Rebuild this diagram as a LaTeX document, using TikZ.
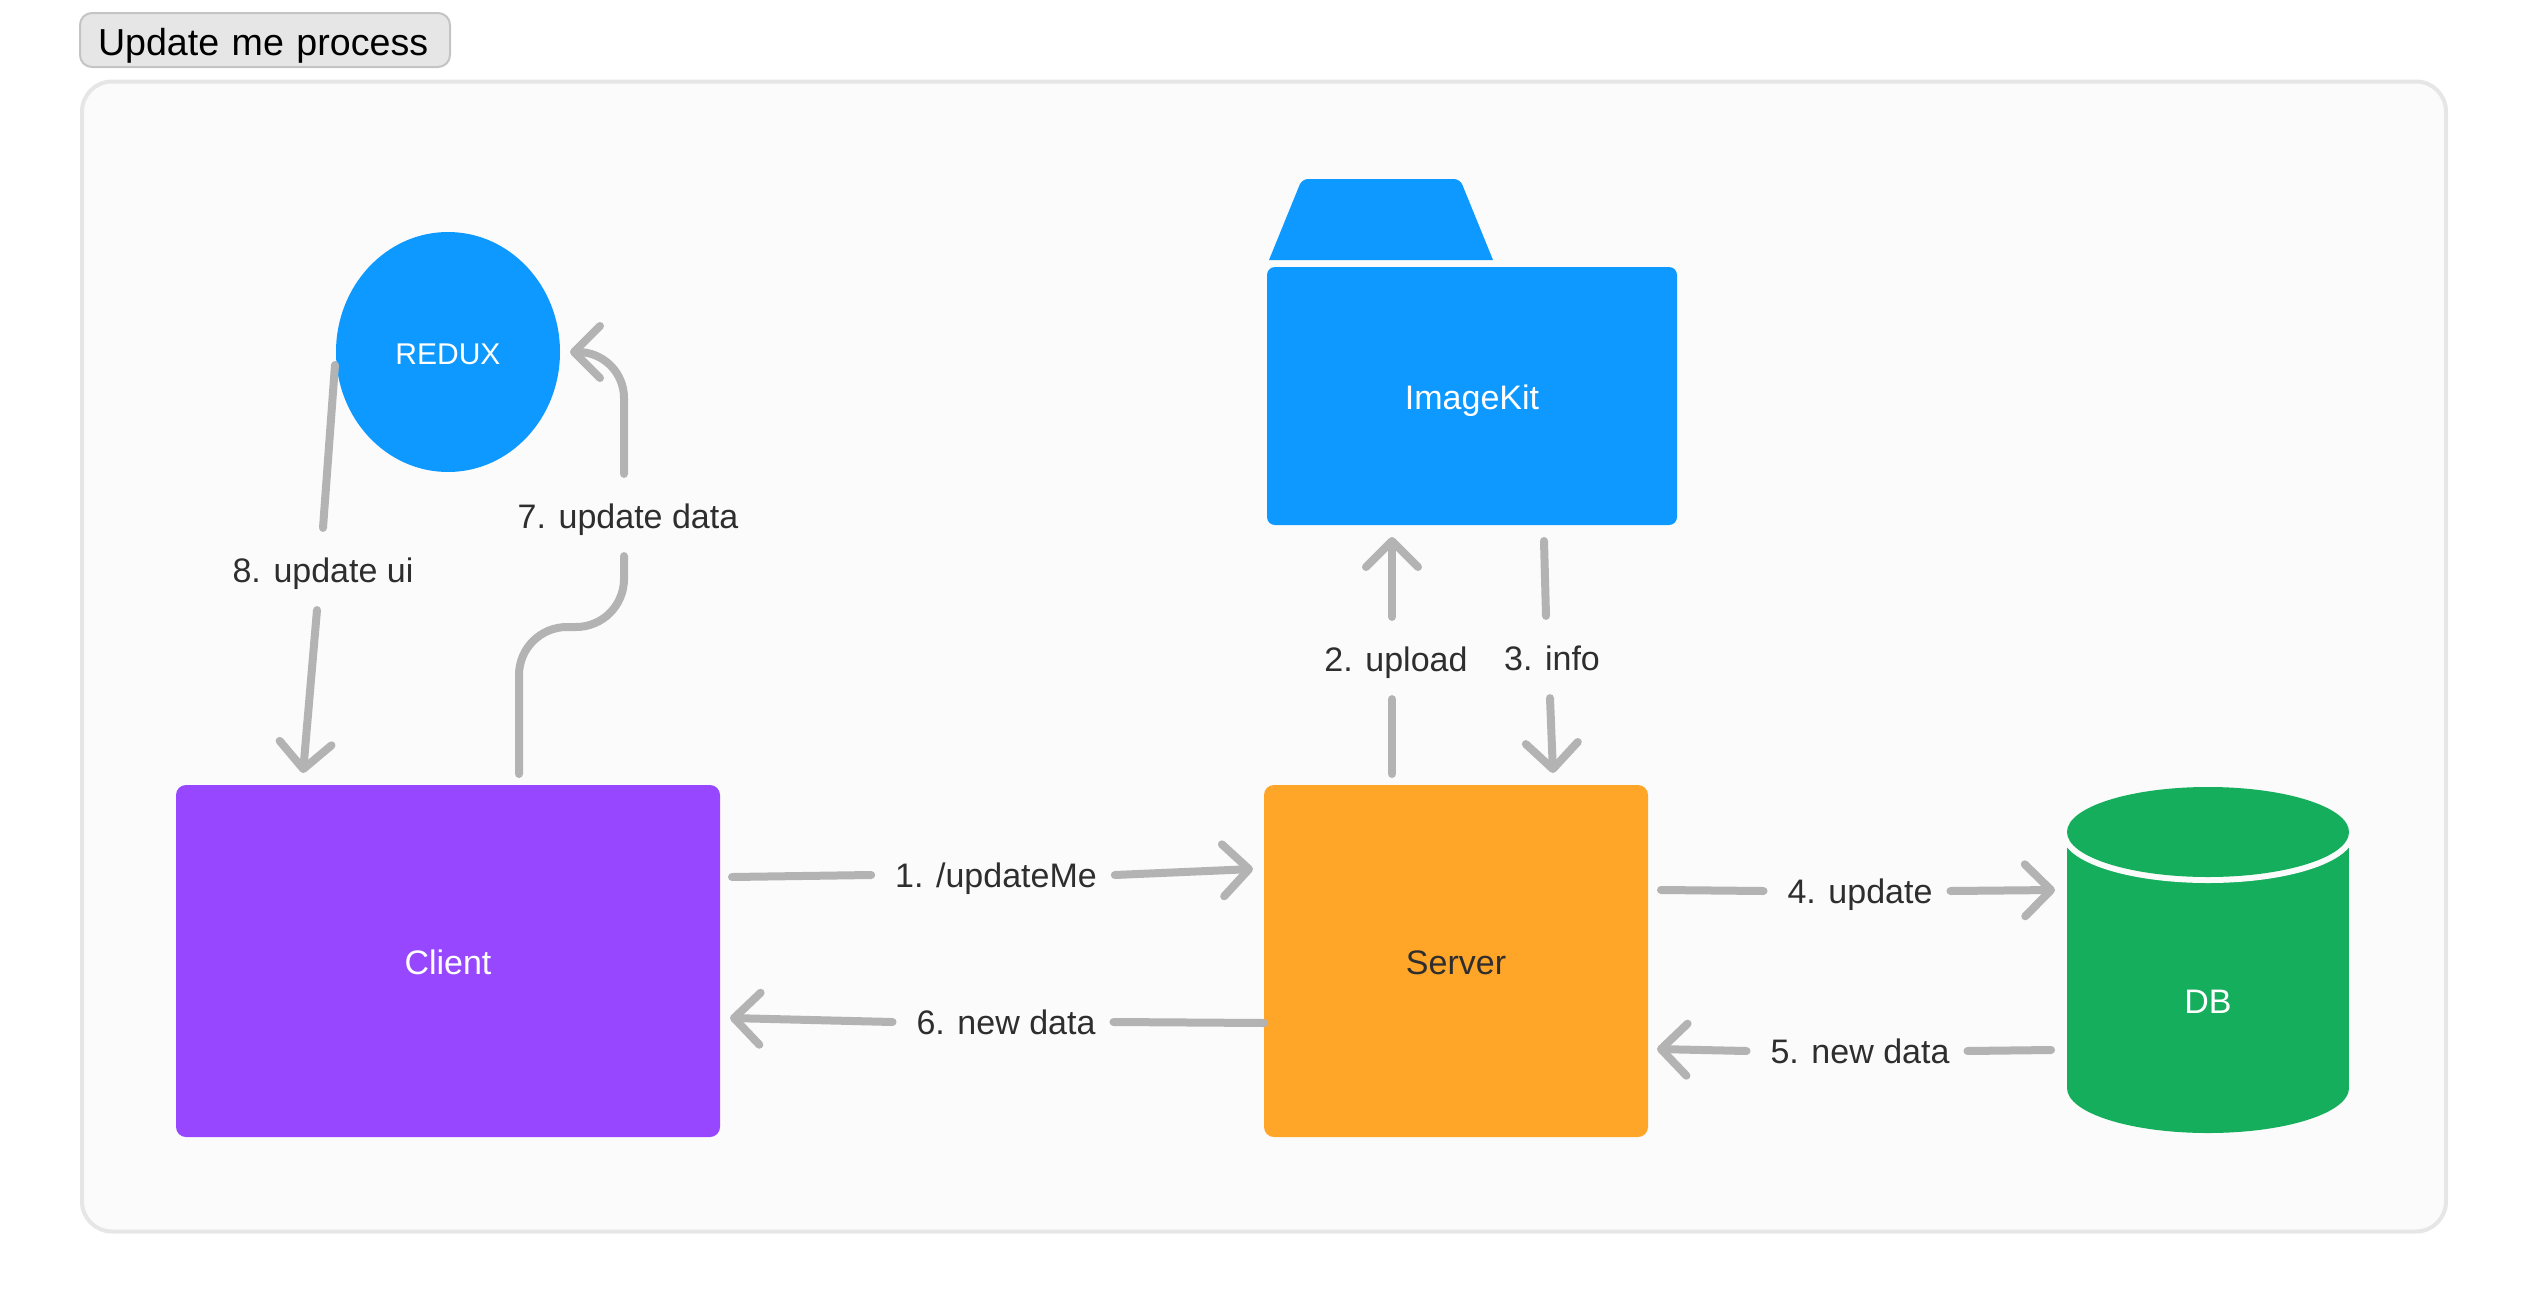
\documentclass[tikz,border=0pt]{standalone}
\usepackage{fontspec}
\setmainfont{Liberation Sans}
\usepackage{xcolor}
\usetikzlibrary{arrows.meta,positioning,calc,shapes.geometric}
\definecolor{panelfill}{HTML}{FBFBFB}
\definecolor{panelline}{HTML}{E6E6E6}
\definecolor{btnline}{HTML}{C4C4C4}
\definecolor{linkgray}{HTML}{B3B3B3}
\definecolor{inkgray}{HTML}{2E2E2E}
\definecolor{bluefill}{HTML}{0D99FF}
\definecolor{purplefill}{HTML}{9747FF}
\definecolor{orangefill}{HTML}{FFA629}
\definecolor{greenfill}{HTML}{14AE5C}

\begin{document}
\begin{tikzpicture}[
    x=0.5pt, y=-0.5pt,
    font=\fontsize{17pt}{20pt}\selectfont,
    block/.style={rounded corners=5pt, text=white, outer sep=0pt, inner sep=0pt,
      text height=13.6pt, text depth=0pt},
    hlabel/.style={text=inkgray, inner ysep=10pt, inner xsep=12pt, outer sep=0pt,
      text height=16pt, text depth=3.3pt},
    vlabel/.style={text=inkgray, inner ysep=10pt, inner xsep=12pt, outer sep=0pt,
      text height=17.1pt, text depth=4pt},
    link/.style={draw=linkgray, line width=4pt, line cap=round, line join=round},
    arrow/.style={link, -{Straight Barb[length=13pt, width=26pt, round]}}
  ]
    \useasboundingbox (0,0) rectangle (2528,1312);

    \node[draw=panelline, fill=panelfill, line width=2pt, rounded corners=15pt,
      minimum width=1182pt, minimum height=575pt, inner sep=0pt, outer sep=0pt] (panel) at (1264,656.5) {};
    \node[draw=btnline, fill=panelline, line width=1pt, rounded corners=6pt, text=black,
      font=\fontsize{18.8pt}{22pt}\selectfont, text width=167pt, align=left,
      text height=15.6pt, text depth=0pt,
      minimum height=27pt, inner xsep=9pt, inner ysep=0pt] (title) at (265,40) {Update me process};

    \node[block, fill=purplefill, minimum width=272pt, minimum height=176pt] (client) at (448,961) {Client};
    \node[block, fill=orangefill, text=inkgray, minimum width=192pt, minimum height=176pt,
      right=272pt of client] (server) {Server};
    \node[block, ellipse, fill=bluefill, minimum width=112pt, minimum height=120pt,
      font=\fontsize{15pt}{18pt}\selectfont, text height=12.8pt] (redux) at (448,352) {REDUX};
    \node[block, rounded corners=4pt, fill=bluefill, minimum width=205pt, minimum height=129pt,
      text height=13.2pt] (imagekit) at (1472,396) {ImageKit};
    \fill[bluefill] (1269,260) [rounded corners=3pt] -- (1302,179) -- (1460,179) [sharp corners] -- (1493,260) -- cycle;

    \fill[greenfill] (2067,832) rectangle (2349,1088);
    \fill[greenfill] (2208,1088) ellipse [x radius=141, y radius=45];
    \draw[panelfill, line width=6pt] (2208,832) ellipse [x radius=141, y radius=45];
    \fill[greenfill] (2208,832) ellipse [x radius=141, y radius=45];
    \node[block] (db) at (2208,1000) {DB};

    \node[hlabel] (updateme) at (996,875) {1. /updateMe};
    \node[vlabel] (upload) at (1396,658) {2. upload};
    \node[vlabel] (info) at (1552,657) {3. info};
    \node[hlabel] (update) at (1860,891) {4. update};
    \node[hlabel] (newdb) at (1860,1051) {5. new data};
    \node[hlabel] (newclient) at (1006,1022) {6. new data};
    \node[vlabel] (updatedata) at (628,515) {7. update data};
    \node[vlabel] (updateui) at (323,569) {8. update ui};

    \coordinate (clientout) at (732,877);
    \coordinate (serverin) at (1253,869);
    \coordinate (serverup) at (1392,774);
    \coordinate (kitin) at (1392,537);
    \coordinate (kitout) at (1544,541);
    \coordinate (serverdown) at (1553,773);
    \coordinate (serverright) at (1661,890);
    \coordinate (dbin) at (2055,890);
    \coordinate (dbout) at (2051,1050);
    \coordinate (serverback) at (1657,1049);
    \coordinate (serverleft) at (1264,1023);
    \coordinate (clientin) at (730,1018);
    \coordinate (clientup) at (519,774);
    \coordinate (reduxin) at (570,352);
    \coordinate (reduxout) at (335,365);
    \coordinate (clientdown) at (303,773);

    \draw[link] (clientout) -- (updateme.west);
    \draw[arrow] ([xshift=-3pt]updateme.east) -- (serverin);
    \draw[link] (serverup) -- ([xshift=-2pt]upload.south);
    \draw[arrow] ([xshift=-2pt]upload.north) -- (kitin);
    \draw[link] (kitout) -- ([xshift=-3pt]info.north);
    \draw[arrow] ([xshift=-1pt]info.south) -- (serverdown);
    \draw[link] (serverright) -- (update.west);
    \draw[arrow] ([xshift=-3pt]update.east) -- (dbin);
    \draw[link] (dbout) -- ([xshift=-3pt]newdb.east);
    \draw[arrow] (newdb.west) -- (serverback);
    \draw[link] (serverleft) -- ([xshift=-3pt]newclient.east);
    \draw[arrow] (newclient.west) -- (clientin);
    \draw[link, rounded corners=24pt] (clientup) -- (clientup |- 0,627) -- ([xshift=-2pt]updatedata.south |- 0,627) -- ([xshift=-2pt]updatedata.south);
    \draw[arrow, rounded corners=23pt] ([xshift=-2pt]updatedata.north) -- ([xshift=-2pt]updatedata.north |- reduxin) -- (reduxin);
    \draw[link] (reduxout) -- (updateui.north);
    \draw[arrow] ([xshift=-3pt]updateui.south) -- (clientdown);
\end{tikzpicture}
\end{document}
